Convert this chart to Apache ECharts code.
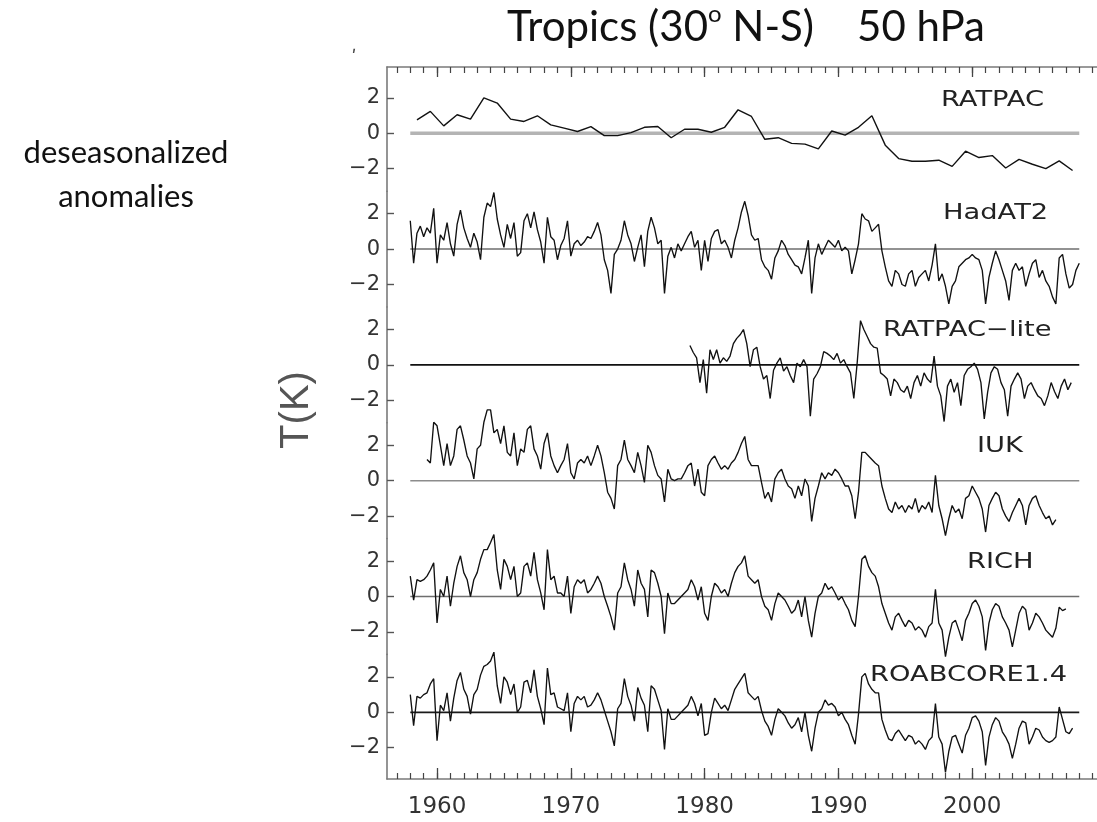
<!DOCTYPE html>
<html>
<head>
<meta charset="utf-8">
<script src="https://cdn.jsdelivr.net/npm/echarts@6/dist/echarts.min.js"></script>
<style>
  html, body { margin: 0; padding: 0; background: #fff; }
  #main { width: 1097px; height: 822px; }
</style>
</head>
<body>
<div id="main"></div>
<script>
// ---- data ----
var decadeTicks = [1960, 1970, 1980, 1990, 2000];
var yTicks = [-2, 0, 2];
var baselineSpan = [1958, 2008];
var panelNames = ['RATPAC', 'HadAT2', 'RATPAC\u2212lite', 'IUK', 'RICH', 'ROABCORE1.4'];

// RATPAC: annual values, from mid 1958
var ratpacStart = 1958.5, ratpacStep = 1;
var ratpac = [0.76, 1.24, 0.42, 1.05, 0.8, 2.0, 1.71, 0.8, 0.67, 0.99,
  0.48, 0.29, 0.1, 0.38, -0.13, -0.13, 0.04, 0.34, 0.38, -0.25,
  0.23, 0.23, 0.06, 0.34, 1.33, 0.95, -0.34, -0.25, -0.57, -0.61,
  -0.88, 0.13, -0.1, 0.34, 0.99, -0.67, -1.43, -1.58, -1.58, -1.52,
  -1.87, -1.01, -1.37, -1.26, -1.96, -1.47, -1.75, -2.0, -1.56, -2.1];

// the radiosonde sets: quarterly readings
var qStep = 0.25;

var hadat2Start = 1958.0;
var hadat2 = [1.6, -0.8, 0.9, 1.3, 0.7, 1.2, 0.9, 2.3, -0.8, 0.8,
  0.5, 1.5, 0.3, -0.4, 1.4, 2.2, 1.2, 0.6, 0.1, 0.9,
  0.4, -0.6, 1.8, 2.6, 2.4, 3.2, 1.7, 0.8, 0.1, 1.4,
  0.6, 1.5, -0.4, -0.2, 1.6, 2.0, 1.2, 2.1, 1.1, 0.4,
  -0.8, 1.8, 0.7, 0.5, -0.6, 0.2, 0.6, 1.6, -0.4, 0.3,
  0.5, 0.2, 0.4, 0.7, 0.6, 1.0, 1.5, 0.8, -0.6, -1.2,
  -2.5, -0.3, 0.0, 0.5, 1.6, 0.8, 0.3, -0.7, 0.1, 0.8,
  -1.0, 1.0, 1.8, 1.2, 0.3, 0.5, -2.5, -0.4, 0.1, -0.5,
  0.3, -0.1, 0.3, 0.7, 1.0, 0.1, 0.5, -1.2, 0.5,
  -0.7, 0.6, 1.0, 1.1, 0.3, 0.5, 0.1, -0.5, 0.5, 1.2,
  2.1, 2.7, 1.9, 0.8, 0.5, 0.6, -0.6, -1.0, -1.2, -1.7,
  -0.5, -0.1, 0.5, 0.2, -0.3, -0.6, -0.9, -1.0, -1.4, -0.5,
  0.5, -2.5, -0.5, 0.3, -0.3, 0.1, 0.5, 0.3, 0.1, 0.5,
  -0.1, 0.1, -0.1, -1.4, -0.6, 0.3, 2.0, 1.7, 1.6, 1.0,
  1.2, 1.4, -0.1, -1.0, -1.8, -2.1, -1.2, -1.4, -2.0, -2.1,
  -1.4, -1.2, -2.1, -1.6, -1.4, -1.2, -1.8, -0.9, 0.3, -1.8,
  -1.4, -2.1, -3.1, -2.1, -1.8, -1.0, -0.8, -0.6, -0.5, -0.3,
  -0.5, -0.6, -1.2, -3.1, -1.6, -0.8, -0.1, -0.6, -1.2, -1.8,
  -2.9, -1.2, -0.8, -1.2, -1.0, -2.1, -1.4, -0.8, -0.6, -1.6,
  -1.2, -1.8, -2.1, -2.7, -3.1, -0.5, -0.3,
  -1.4, -2.2, -2.0, -1.2, -0.8];

var ratpacLiteStart = 1978.9;
var ratpacLite = [1.1, 0.7, 0.4, -1.0, 0.3, -1.6,
  0.86, 0.3, 0.86, 0.1, 0.4, 0.2, 0.5, 1.2, 1.5, 1.7,
  2.0, 1.2, -0.1, 0.86, 1.0, -0.1, -0.8, -0.6, -1.9, -0.3,
  0.1, 0.4, -0.35, -0.1, -0.6, -1.0, 0.1, -0.1, 0.3, -0.1,
  -2.9, -0.8, -0.5, -0.1, 0.75, 0.65, 0.5, 0.3, 0.65, 0.1,
  0.3, -0.1, -0.45, -1.9, 0.1, 2.5, 2.0, 1.6, 1.2, 1.0,
  0.95, -0.45, -0.6, -0.8, -1.75, -0.8, -1.0, -1.4, -1.55, -1.2,
  -1.9, -1.0, -0.6, -1.2, -0.45, -0.8, -1.0, 0.5, -1.2, -1.75,
  -3.2, -1.2, -0.8, -1.55, -1.0, -2.3, -0.6, -0.25, -0.1, 0.1,
  -0.25, -1.0, -3.05, -1.55, -0.45, -0.1, -0.25, -1.0, -1.4, -2.9,
  -1.2, -0.8, -0.45, -0.8, -1.9, -1.2, -1.0, -1.4, -1.75, -1.9,
  -2.3, -1.75, -1.0,
  -1.5, -1.9, -1.2, -0.8, -1.4, -1.0];

var iukStart = 1959.25;
var iuk = [1.2, 1.0, 3.3, 3.1, 2.0, 0.85, 2.1, 0.85, 1.4, 2.9,
  3.1, 2.3, 1.4, 1.0, 0.1, 1.8, 2.0, 3.3, 4.0, 4.0,
  2.7, 2.9, 2.1, 3.1, 1.6, 1.4, 2.7, 0.85, 1.8, 1.6,
  2.9, 3.1, 1.8, 1.4, 0.65, 2.1, 2.7, 1.4, 0.85, 0.45,
  0.85, 1.2, 2.1, 0.45, 0.1, 1.0, 1.2, 1.0, 1.4, 0.85,
  1.4, 2.0, 1.4, 0.45, -0.65, -1.0, -1.6, 0.85, 1.2, 2.3,
  1.2, 0.85, 0.45, 1.6, 0.85, -0.1, 2.0, 1.6, 0.85, 0.3,
  0.1, -1.2, 0.65, 0.1, 0.0, 0.1, 0.1, 0.45, 0.85, 1.0,
  -0.3, 0.65, -0.65, -0.85, 0.85, 1.2, 1.4,
  1.0, 0.65, 0.85, 0.65, 1.0, 1.2, 1.6, 2.1, 2.5, 1.2,
  0.85, 0.85, 0.85, -0.1, -1.0, -0.65, -1.2, 0.1, 0.45, 0.65,
  0.1, -0.3, -0.45, -1.0, -0.3, -0.85, 0.1, -0.3, -2.3, -1.0,
  -0.3, 0.45, 0.1, 0.45, 0.3, 0.65, 0.45, 0.1, -0.3, -0.3,
  -0.85, -2.15, -0.65, 1.6, 1.6, 1.4, 1.2, 1.0, 0.85, -0.3,
  -1.0, -1.6, -1.8, -1.2, -1.6, -1.4, -1.8, -1.4, -1.6, -1.0,
  -1.8, -1.4, -1.6, -1.2, -1.8, 0.3, -1.4, -2.15, -3.1, -2.15,
  -1.4, -1.8, -1.6, -2.15, -1.0, -0.85, -0.3, -0.65, -1.0, -1.6,
  -2.9, -1.4, -1.0, -0.65, -0.85, -1.6, -2.0, -2.3, -1.8, -1.4,
  -1.0, -1.4, -2.5, -1.4, -1.0, -0.85, -1.4, -1.8, -2.15, -2.0,
  -2.5, -2.2];

var richStart = 1958.0;
var rich = [1.15, -0.2, 0.95, 0.85, 0.95, 1.15, 1.5, 1.9, -1.5, 0.4,
  0.0, 1.15, -0.55, 0.75, 1.7, 2.3, 1.35, 0.95, 0.0, 0.95,
  1.35, 2.1, 2.65, 2.65, 3.05, 3.5, 1.5, 0.4, 2.1, 1.7,
  0.95, 1.7, 0.0, 0.2, 1.7, 1.9, 1.15, 2.5, 0.95, 0.2,
  -0.75, 2.65, 0.95, 1.15, 0.2, 0.2, 0.0, 1.15, -0.95, 0.55,
  0.95, 0.75, 0.95, 0.2, 0.4, 0.75, 1.15, 0.75, 0.0, -0.55,
  -1.15, -1.9, 0.2, 0.55, 1.9, 0.95, 0.4, -0.55, 1.5, 0.75,
  0.4, -1.15, 1.5, 1.35, 0.75, 0.0, -2.1, 0.2, -0.4, -0.4,
  -0.2, 0.0, 0.2, 0.4, 0.95, 0.55, -0.2, 0.55, -0.95, -1.35,
  0.0, 0.75,
  0.55, 0.2, 0.4, 0.0, 0.75, 1.35, 1.7, 1.9, 2.3, 1.15,
  0.95, 0.75, 0.95, 0.0, -0.55, -0.75, -1.35, -0.4, 0.2, 0.0,
  -0.2, -0.55, -0.95, -0.75, -0.2, -1.15, 0.0, -1.35, -2.3, -0.95,
  0.0, 0.2, 0.75, 0.4, 0.55, 0.2, -0.2, 0.0, -0.4, -0.75,
  -1.35, -1.7, 0.0, 2.1, 2.3, 1.7, 1.35, 1.15, 0.55, -0.4,
  -0.95, -1.5, -1.9, -1.15, -0.95, -1.35, -1.7, -1.35, -1.5, -1.9,
  -1.7, -1.9, -2.3, -1.7, -1.5, 0.4, -1.5, -1.9, -3.4, -2.3,
  -1.5, -1.35, -1.9, -2.5, -1.35, -0.95, -0.4, -0.2, -0.55, -1.15,
  -3.05, -1.5, -0.75, -0.4, -0.55, -1.15, -1.5, -1.9, -2.85, -1.9,
  -0.95, -0.55, -0.75, -1.9, -1.5, -0.95, -1.15, -1.5, -1.9, -2.1,
  -2.3,
  -1.8, -0.6, -0.8, -0.7];

var roabStart = 1958.0;
var roab = [1.0, -0.75, 0.9, 0.8, 1.0, 1.1, 1.6, 1.9, -1.6, 0.4,
  0.1, 1.1, -0.5, 0.8, 1.8, 2.25, 1.3, 0.9, -0.1, 1.0,
  1.3, 2.1, 2.6, 2.7, 2.9, 3.4, 1.5, 0.5, 2.0, 1.7,
  1.0, 1.6, 0.0, 0.3, 1.7, 1.8, 1.1, 2.4, 0.9, 0.2,
  -0.7, 2.5, 1.0, 1.1, 0.3, 0.2, 0.1, 1.1, -1.1, 0.5,
  0.9, 0.7, 0.9, 0.3, 0.4, 0.7, 1.1, 0.7, 0.1, -0.5,
  -1.1, -1.9, 0.2, 0.5, 1.9, 0.9, 0.4, -0.5, 1.4, 0.8,
  0.4, -1.1, 1.5, 1.3, 0.7, 0.1, -2.1, 0.2, -0.4, -0.4,
  -0.2, 0.0, 0.2, 0.4, 0.9, 0.5, -0.2, 0.5, -1.3, -1.2,
  0.0, 0.8,
  0.5, 0.2, 0.4, 0.1, 0.7, 1.3, 1.6, 1.9, 2.2, 1.1,
  0.9, 0.7, 0.9, 0.1, -0.5, -0.8, -1.3, -0.4, 0.2, 0.0,
  -0.2, -0.6, -0.9, -0.7, -0.3, -1.1, 0.0, -1.3, -2.2, -0.9,
  0.0, 0.2, 0.7, 0.4, 0.5, 0.3, -0.2, 0.0, -0.4, -0.7,
  -1.3, -1.8, -0.1, 2.0, 2.2, 1.6, 1.3, 1.1, 1.1, -0.4,
  -1.0, -1.5, -1.6, -1.2, -1.0, -1.3, -1.6, -1.3, -1.4, -1.8,
  -1.6, -1.8, -2.1, -1.6, -1.4, 0.5, -1.4, -1.8, -3.4, -2.2,
  -1.4, -1.3, -1.8, -2.3, -1.3, -0.9, -0.3, -0.2, -0.5, -1.1,
  -3.0, -1.4, -0.7, -0.3, -0.5, -1.1, -1.4, -1.8, -2.6, -1.8,
  -0.9, -0.5, -0.6, -1.8, -1.4, -0.9, -1.0, -1.4, -1.6, -1.7,
  -1.6,
  -1.4, 0.3, -0.4, -1.1, -1.2, -0.9];

// ---- layout ----
var plotLeft = 387, plotWidth = 713, plotTop = 67, plotBottom = 779;
var firstZero = 133.3, panelGap = 115.8, pxPerK = 17.7;
var xMin = 1956.26, xMax = 2009.55;

var panels = [
  { name: panelNames[0], start: ratpacStart, step: ratpacStep, values: ratpac, base: '#b4b4b4', baseW: 3.5, lw: 1.4, labelX: 941, labelY: 101 },
  { name: panelNames[1], start: hadat2Start, step: qStep, values: hadat2, base: '#6e6e6e', baseW: 1.5, lw: 1.35, labelX: 943, labelY: 214 },
  { name: panelNames[2], start: ratpacLiteStart, step: qStep, values: ratpacLite, base: '#111', baseW: 1.6, lw: 1.35, labelX: 883, labelY: 331 },
  { name: panelNames[3], start: iukStart, step: qStep, values: iuk, base: '#8c8c8c', baseW: 1.5, lw: 1.35, labelX: 977, labelY: 447 },
  { name: panelNames[4], start: richStart, step: qStep, values: rich, base: '#6e6e6e', baseW: 1.5, lw: 1.35, labelX: 967, labelY: 563 },
  { name: panelNames[5], start: roabStart, step: qStep, values: roab, base: '#1a1a1a', baseW: 1.8, lw: 1.35, labelX: 870, labelY: 676 }
];

function toPoints(start, stp, vals) {
  return vals.map(function (v, i) { return [start + i * stp, v]; });
}

var yearTicks = [];
for (var yr = 1957; yr <= 2009; yr++) yearTicks.push(yr);

var frameColor = '#7a7a7a';
var grids = [], xAxes = [], yAxes = [], series = [], graphics = [];

panels.forEach(function (p, i) {
  var zero = firstZero + i * panelGap;
  var top = i === 0 ? plotTop : zero - panelGap / 2;
  var bottom = i === panels.length - 1 ? plotBottom : zero + panelGap / 2;
  grids.push({ left: plotLeft, width: plotWidth, top: top, height: bottom - top,
    containLabel: false, outerBoundsMode: 'none' });

  var edge = i === 0 ? 'top' : (i === panels.length - 1 ? 'bottom' : null);
  xAxes.push({
    gridIndex: i, type: 'value', min: xMin, max: xMax,
    position: edge || 'bottom',
    show: !!edge,
    axisLine: { show: true, onZero: false, lineStyle: { color: frameColor, width: 1.6 } },
    axisTick: { show: true, inside: true, length: 6, customValues: yearTicks, lineStyle: { color: '#444', width: 1.2 } },
    axisLabel: { show: false },
    splitLine: { show: false }
  });

  yAxes.push({
    gridIndex: i, type: 'value', position: 'left',
    min: -(bottom - zero) / pxPerK, max: (zero - top) / pxPerK,
    axisLine: { show: true, onZero: false, lineStyle: { color: frameColor, width: 1.6 } },
    axisTick: { show: true, inside: true, length: 7, customValues: yTicks, lineStyle: { color: '#555', width: 1.4 } },
    axisLabel: {
      show: true, customValues: yTicks, margin: 7,
      fontFamily: 'DejaVu Sans', fontSize: 21, color: '#333',
      formatter: function (v) { return String(v).replace('-', '\u2212'); }
    },
    splitLine: { show: false }
  });

  series.push({
    type: 'line', xAxisIndex: i, yAxisIndex: i, silent: true,
    data: [[baselineSpan[0], 0], [baselineSpan[1], 0]],
    showSymbol: false, symbol: 'none', z: 1,
    lineStyle: { color: p.base, width: p.baseW }
  });
  series.push({
    type: 'line', name: p.name, xAxisIndex: i, yAxisIndex: i,
    data: toPoints(p.start, p.step, p.values),
    showSymbol: false, symbol: 'none', clip: false, z: 3,
    lineStyle: { color: '#111', width: p.lw }
  });

  graphics.push({
    type: 'text', x: p.labelX, y: p.labelY, scaleX: 1.3, z: 10,
    style: { text: p.name, fill: '#222', fontFamily: 'DejaVu Sans', fontSize: 21,
      align: 'left', textAlign: 'left', verticalAlign: 'middle', textVerticalAlign: 'middle' }
  });
});

// decade (long) ticks on top and bottom, labels at bottom
xAxes.push({
  gridIndex: 0, type: 'value', min: xMin, max: xMax, position: 'top',
  axisLine: { show: false, onZero: false },
  axisTick: { show: true, inside: true, length: 10, customValues: decadeTicks, lineStyle: { color: '#444', width: 1.3 } },
  axisLabel: { show: false }, splitLine: { show: false }
});
xAxes.push({
  gridIndex: panels.length - 1, type: 'value', min: xMin, max: xMax, position: 'bottom',
  axisLine: { show: false, onZero: false },
  axisTick: { show: true, inside: true, length: 11, customValues: decadeTicks, lineStyle: { color: '#444', width: 1.3 } },
  axisLabel: { show: true, customValues: decadeTicks, margin: 17,
    fontFamily: 'DejaVu Sans', fontSize: 23, color: '#333',
    formatter: function (v) { return String(v); } },
  splitLine: { show: false }
});

graphics.push({
  type: 'text', x: 746, y: 27, z: 10,
  style: {
    text: '{a|Tropics (30}{s|o}{a| N-S)    50 hPa}',
    align: 'center', textAlign: 'center', verticalAlign: 'middle', textVerticalAlign: 'middle',
    rich: {
      a: { fontFamily: 'Lato', fontSize: 42, fill: '#111', color: '#111', lineHeight: 50 },
      s: { fontFamily: 'Lato', fontSize: 24, fill: '#111', color: '#111', verticalAlign: 'top', lineHeight: 32 }
    }
  }
});
graphics.push({
  type: 'text', x: 126, y: 153, z: 10,
  style: { text: 'deseasonalized', fill: '#111', fontFamily: 'Lato', fontSize: 31,
    align: 'center', textAlign: 'center', verticalAlign: 'middle', textVerticalAlign: 'middle' }
});
graphics.push({
  type: 'text', x: 126, y: 197, z: 10,
  style: { text: 'anomalies', fill: '#111', fontFamily: 'Lato', fontSize: 31,
    align: 'center', textAlign: 'center', verticalAlign: 'middle', textVerticalAlign: 'middle' }
});
graphics.push({
  type: 'text', x: 297, y: 410, rotation: Math.PI / 2, z: 10,
  style: { text: 'T(K)', fill: '#555', fontFamily: 'Liberation Sans', fontSize: 40,
    align: 'center', textAlign: 'center', verticalAlign: 'middle', textVerticalAlign: 'middle' }
});
graphics.push({
  type: 'text', x: 354, y: 58, z: 10,
  style: { text: '\u02b9', fill: '#444', fontFamily: 'DejaVu Sans', fontSize: 18,
    align: 'center', textAlign: 'center', verticalAlign: 'middle', textVerticalAlign: 'middle' }
});

var chart = echarts.init(document.getElementById('main'), null, { renderer: 'canvas' });
chart.setOption({
  animation: false,
  backgroundColor: '#fff',
  grid: grids,
  xAxis: xAxes,
  yAxis: yAxes,
  series: series,
  graphic: { elements: graphics }
});
</script>
</body>
</html>
